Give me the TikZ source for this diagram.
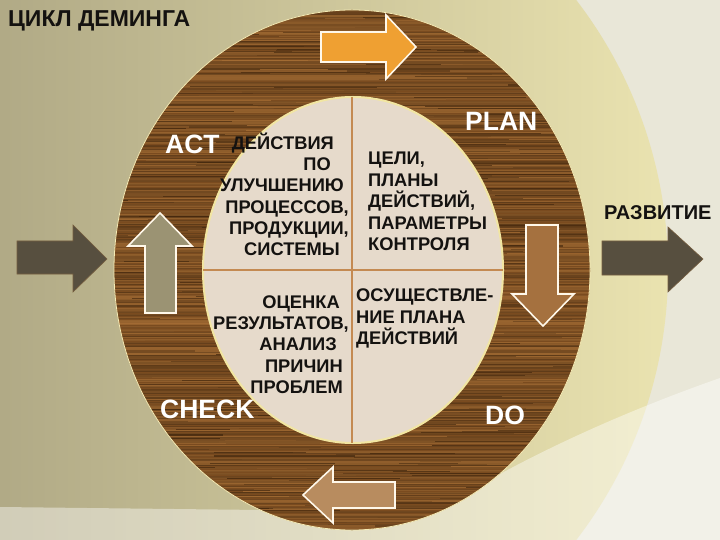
\documentclass[tikz,border=0pt]{standalone}
\usepackage{fontspec}
\setmainfont{Liberation Sans}
\definecolor{bgout}{HTML}{E9E7D8}
\definecolor{circL}{HTML}{9E9778}
\definecolor{circR}{HTML}{EAE3B0}
\definecolor{wooddark}{HTML}{3D230B}
\definecolor{woodlight}{HTML}{A86F35}
\definecolor{woodmid}{HTML}{7A4B1F}
\definecolor{innerfill}{HTML}{E6DACB}
\definecolor{innerrim}{HTML}{F2E6A2}
\definecolor{divline}{HTML}{C48A52}
\definecolor{txtblack}{HTML}{141210}
\definecolor{arrOrange}{HTML}{EFA032}
\definecolor{arrBrown}{HTML}{A5713F}
\definecolor{arrTan}{HTML}{B88C5F}
\definecolor{arrOlive}{HTML}{9B9373}
\definecolor{arrDark}{HTML}{574F3F}
\definecolor{arrRim}{HTML}{FFF8EA}
\begin{document}
\begin{tikzpicture}[x=1bp,y=-1bp,
  qtext/.style={font=\bfseries\fontsize{18.3bp}{20bp}\selectfont, text=txtblack, inner sep=0pt},
  lbl/.style={font=\bfseries\fontsize{26.5bp}{30bp}\selectfont, text=white, inner sep=0pt},
  ttl/.style={font=\bfseries\fontsize{23bp}{26bp}\selectfont, text=txtblack, inner sep=0pt},
  rimarrow/.style={draw=arrRim, line width=1.6bp, line join=miter},
  darkarrow/.style={fill=arrDark, draw=arrDark!70!brown, line width=0.6bp}]
\useasboundingbox (0,0) rectangle (720,540);
% background
\begin{scope}
  \clip (0,0) rectangle (720,540);
  \fill[bgout] (0,0) rectangle (720,540);
  \shade[left color=circL, right color=circR] (225,270) circle [radius=443bp];
  \fill[white, opacity=0.42] (0,507) -- (436,512) .. controls (500,470) and (600,420) .. (720,378) -- (720,540) -- (0,540) -- cycle;
\end{scope}
% wood ring
\begin{scope}[even odd rule]
  \clip (352,270) ellipse [x radius=238bp, y radius=260bp]
        (353,270) ellipse [x radius=150bp, y radius=173bp];
  \fill[woodmid] (100,0) rectangle (600,540);
  \pgfmathsetseed{42}
  \foreach \i in {0,...,360} {
    \pgfmathsetmacro\yy{7+1.47*\i}
    \pgfmathsetmacro\pc{int(15+55*rnd)}
    \pgfmathsetmacro\lw{0.5+1.2*rnd}
    \draw[line width=\lw bp, color=wooddark!\pc!woodlight] (100,\yy) -- (600,\yy);
  }
  \foreach \i in {0,...,300} {
    \pgfmathsetmacro\yy{8+1.75*\i}
    \pgfmathsetmacro\xa{60+460*rnd}
    \pgfmathsetmacro\xl{30+150*rnd}
    \pgfmathsetmacro\pc{int(100*rnd)}
    \pgfmathsetmacro\lw{0.4+1.0*rnd}
    \draw[line width=\lw bp, color=wooddark!\pc!woodlight, opacity=0.75] (\xa,\yy) -- (\xa+\xl,\yy);
  }
  \foreach \i in {0,...,70} {
    \pgfmathsetmacro\yy{10+520*rnd}
    \pgfmathsetmacro\xa{80+420*rnd}
    \pgfmathsetmacro\xl{60+200*rnd}
    \draw[line width=0.8bp, color=wooddark, opacity=0.6] (\xa,\yy) -- (\xa+\xl,\yy);
  }
\end{scope}
\draw[color=innerrim!80!white, line width=0.8bp] (352,270) ellipse [x radius=238bp, y radius=260bp];
% inner disc
\filldraw[fill=innerfill, draw=innerrim, line width=2bp] (353,270) ellipse [x radius=150bp, y radius=173bp];
\coordinate (vt) at (352,97);
\coordinate (vb) at (352,443);
\coordinate (hl) at (203,270);
\coordinate (hr) at (503,270);
\draw[divline, line width=1.1bp] (vt) -- (vb);
\draw[divline, line width=1.1bp] (hl) -- (hr);
% cycle arrows
\filldraw[fill=arrOrange, rimarrow] (321,32) -- (386,32) -- (386,15) -- (416,47) -- (386,79) -- (386,62) -- (321,62) -- cycle;
\filldraw[fill=arrBrown, rimarrow] (526,225) -- (558,225) -- (558,294) -- (574,294) -- (543,326) -- (512,294) -- (526,294) -- cycle;
\filldraw[fill=arrTan, rimarrow] (395,482) -- (333,482) -- (333,467) -- (303,495) -- (333,523) -- (333,508) -- (395,508) -- cycle;
\filldraw[fill=arrOlive, rimarrow] (145,313) -- (145,246) -- (128,246) -- (160,213) -- (192,246) -- (176,246) -- (176,313) -- cycle;
% in / out arrows
\filldraw[darkarrow] (17,241) -- (73,241) -- (73,225) -- (107,259) -- (73,292) -- (73,274) -- (17,274) -- cycle;
\filldraw[darkarrow] (602,241) -- (668,241) -- (668,227) -- (703,259) -- (668,292) -- (668,275) -- (602,275) -- cycle;
% titles
\node[ttl, anchor=base west] (title) at (8,27) {ЦИКЛ ДЕМИНГА};
\node[qtext, anchor=base west, font=\bfseries\fontsize{20bp}{22bp}\selectfont] (razv) at (604,220) {РАЗВИТИЕ};
% stage labels
\node[lbl, anchor=base west] (act) at (165,154) {ACT};
\node[lbl, anchor=base west] (plan) at (465,131) {PLAN};
\node[lbl, anchor=base west] (check) at (160,418) {CHECK};
\node[lbl, anchor=base west] (do) at (485,424) {DO};
% quadrant ACT
\node[qtext, anchor=base east] (a1) at (334,150) {ДЕЙСТВИЯ};
\node[qtext, anchor=base east] (a2) at (331,171) {ПО};
\node[qtext, anchor=base east] (a3) at (344,192) {УЛУЧШЕНИЮ};
\node[qtext, anchor=base east] (a4) at (349,214) {ПРОЦЕССОВ,};
\node[qtext, anchor=base east] (a5) at (349,235) {ПРОДУКЦИИ,};
\node[qtext, anchor=base east] (a6) at (340,256) {СИСТЕМЫ};
% quadrant PLAN
\node[qtext, anchor=base west] (p1) at (368,165) {ЦЕЛИ,};
\node[qtext, anchor=base west] (p2) at (368,187) {ПЛАНЫ};
\node[qtext, anchor=base west] (p3) at (368,208) {ДЕЙСТВИЙ,};
\node[qtext, anchor=base west] (p4) at (368,230) {ПАРАМЕТРЫ};
\node[qtext, anchor=base west] (p5) at (368,251) {КОНТРОЛЯ};
% quadrant CHECK
\node[qtext, anchor=base east] (c1) at (340,308) {ОЦЕНКА};
\node[qtext, anchor=base east] (c2) at (349,329) {РЕЗУЛЬТАТОВ,};
\node[qtext, anchor=base east] (c3) at (337,350) {АНАЛИЗ};
\node[qtext, anchor=base east] (c4) at (343,372) {ПРИЧИН};
\node[qtext, anchor=base east] (c5) at (343,393) {ПРОБЛЕМ};
% quadrant DO
\node[qtext, anchor=base west] (d1) at (356,301) {ОСУЩЕСТВЛЕ-};
\node[qtext, anchor=base west] (d2) at (356,323) {НИЕ ПЛАНА};
\node[qtext, anchor=base west] (d3) at (356,344) {ДЕЙСТВИЙ};
\end{tikzpicture}
\end{document}
